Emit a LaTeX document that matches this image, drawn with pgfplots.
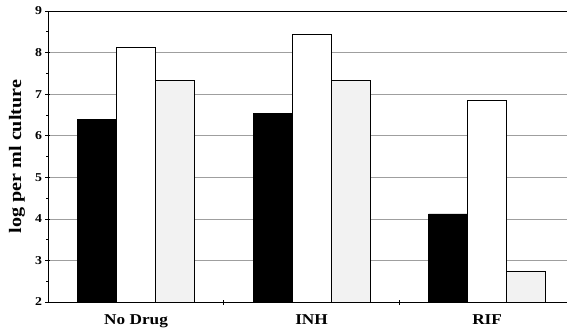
\documentclass[border=0pt]{standalone}
\usepackage{fontspec}
\setmainfont{Liberation Serif}[FakeStretch=1.15]
\usepackage{pgfplots}
\pgfplotsset{compat=1.18}
\begin{document}
\begin{tikzpicture}
\begin{axis}[name=ax, scale only axis, width=519pt, height=291pt,
  ybar=0pt, bar width=39pt,
  xmin=-0.5014, xmax=2.455, ymin=2, ymax=9,
  xtick={0.5,1.5}, xticklabels={},
  extra x ticks={0,1,2}, extra x tick labels={No Drug,INH,RIF},
  extra x tick style={major tick length=0pt, tick label style={font=\fontsize{15}{15}\selectfont\bfseries, yshift=-9pt}},
  ytick={2,...,9}, minor y tick num=1,
  ymajorgrids, major grid style={gray!75, line width=0.6pt},
  axis x line*=bottom, axis y line*=left,
  y tick label style={font=\fontsize{12}{12}\selectfont\bfseries},
  /pgf/number format/assume math mode=true,
  ylabel={log per ml culture},
  ylabel style={font=\fontsize{17.5}{17.5}\selectfont\bfseries, at={(axis description cs:-0.0597,0.5)}, anchor=center},
  tick align=center, major tick length=5pt, minor tick length=3pt,
  tick style={black, line width=0.6pt},
  axis line style={line width=0.8pt},
]
\addplot[fill=black, draw=black] coordinates {(0,6.40) (1,6.53) (2,4.12)};
\addplot[fill=white, draw=black] coordinates {(0,8.14) (1,8.44) (2,6.86)};
\addplot[fill=black!5, draw=black] coordinates {(0,7.34) (1,7.33) (2,2.75)};
\draw[line width=0.8pt] (rel axis cs:0,1) -- (rel axis cs:1,1);
\end{axis}
\pgfresetboundingbox
\path[use as bounding box] ([shift={(-48pt,-27pt)}]ax.south west) rectangle ([shift={(0pt,11pt)}]ax.north east);
\end{tikzpicture}
\end{document}
